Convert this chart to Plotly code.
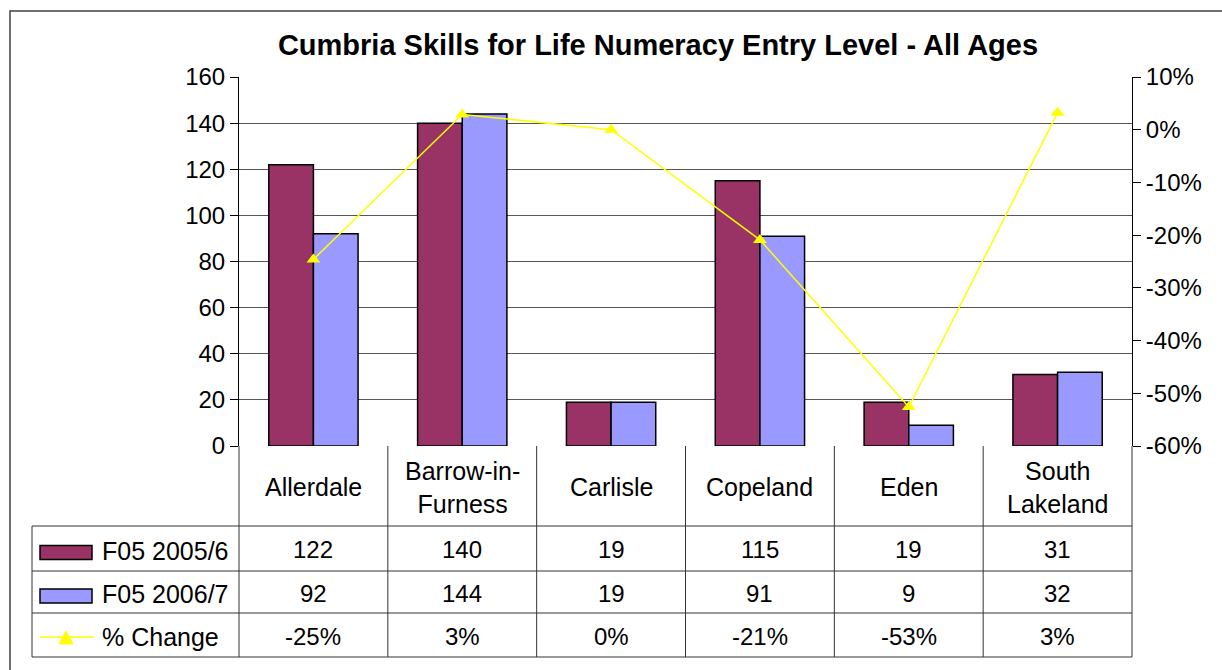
import plotly.graph_objects as go

# data
districts = ["Allerdale", "Barrow-in-Furness", "Carlisle", "Copeland", "Eden", "South Lakeland"]
header_labels = ["Allerdale", "Barrow-in-<br>Furness", "Carlisle", "Copeland", "Eden", "South<br>Lakeland"]
f05_2005 = [122, 140, 19, 115, 19, 31]
f05_2006 = [92, 144, 19, 91, 9, 32]
pct_change = [-0.246, 0.029, 0.0, -0.209, -0.526, 0.032]
pct_labels = ["-25%", "3%", "0%", "-21%", "-53%", "3%"]
pct_ticks = [0.1, 0.0, -0.1, -0.2, -0.3, -0.4, -0.5, -0.6]
pct_tick_text = ["10%", "0%", "-10%", "-20%", "-30%", "-40%", "-50%", "-60%"]

MAROON = "#993366"
LILAC = "#9999FF"
FONT = "Liberation Sans, Arial, sans-serif"
FS = 24   # numbers
FS_TXT = 25  # words in table

W, H = 1222, 670
L, R, T, B = 239, 1132, 77, 446  # plot area in pixels


def px_x(x):
    return (x - L) / (R - L)


def px_y(y):
    return (B - y) / (B - T)


fig = go.Figure()
fig.add_trace(go.Bar(
    x=districts, y=f05_2005, name="F05 2005/6",
    marker_color=MAROON, marker_line={"color": "black", "width": 1.5},
))
fig.add_trace(go.Bar(
    x=districts, y=f05_2006, name="F05 2006/7",
    marker_color=LILAC, marker_line={"color": "black", "width": 1.5},
))
fig.add_trace(go.Scatter(
    x=districts, y=pct_change, name="% Change", yaxis="y2",
    mode="lines+markers",
    line={"color": "#FFFF00", "width": 1.5},
    marker={"symbol": "triangle-up", "size": 12, "color": "#FFFF00"},
))

shapes = []
annotations = []
line_col = "#333333"


def hline(y, x0, x1, color=line_col):
    shapes.append(dict(type="line", xref="paper", yref="paper",
                       x0=px_x(x0), x1=px_x(x1), y0=px_y(y), y1=px_y(y),
                       line={"color": color, "width": 1}))


def vline(x, y0, y1, color=line_col):
    shapes.append(dict(type="line", xref="paper", yref="paper",
                       x0=px_x(x), x1=px_x(x), y0=px_y(y0), y1=px_y(y1),
                       line={"color": color, "width": 1}))


# outer chart border (top and left visible)
shapes.append(dict(type="rect", xref="paper", yref="paper",
                   x0=px_x(10), x1=px_x(1260), y0=px_y(11), y1=px_y(720),
                   line={"color": "#404040", "width": 1.5}))

# data table grid
row_edges = [446, 526, 571, 613, 657]
for y in row_edges[1:]:
    hline(y, 32, R)
vline(32, row_edges[1], row_edges[-1])
cw = (R - L) / len(districts)
for i in range(len(districts) + 1):
    vline(L + i * cw, B, row_edges[-1])

# header row and values
rows = [f05_2005, f05_2006, pct_labels]
for i, lab in enumerate(header_labels):
    cx = px_x(L + (i + 0.5) * cw)
    annotations.append(dict(xref="paper", yref="paper", x=cx, xanchor="center",
                            y=px_y((row_edges[0] + row_edges[1]) / 2 + 1), yanchor="middle",
                            text=lab, showarrow=False, font={"size": FS_TXT}))
    for r, vals in enumerate(rows):
        annotations.append(dict(xref="paper", yref="paper", x=cx, xanchor="center",
                                y=px_y((row_edges[r + 1] + row_edges[r + 2]) / 2 + 1),
                                yanchor="middle",
                                text=str(vals[i]), showarrow=False, font={"size": FS}))

# legend keys in the table
legend_names = ["F05 2005/6", "F05 2006/7", "% Change"]
for r, name in enumerate(legend_names):
    yc = (row_edges[r + 1] + row_edges[r + 2]) / 2
    if r < 2:
        shapes.append(dict(type="rect", xref="paper", yref="paper",
                           x0=px_x(40), x1=px_x(92), y0=px_y(yc - 3), y1=px_y(yc + 11),
                           fillcolor=[MAROON, LILAC][r],
                           line={"color": "black", "width": 1.5}))
    else:
        shapes.append(dict(type="line", xref="paper", yref="paper",
                           x0=px_x(40), x1=px_x(94), y0=px_y(yc + 2), y1=px_y(yc + 2),
                           line={"color": "#FFFF00", "width": 1.5}))
        shapes.append(dict(type="path", xref="paper", yref="paper",
                           path=f"M {px_x(59)},{px_y(yc + 9)} L {px_x(73)},{px_y(yc + 9)} L {px_x(66)},{px_y(yc - 4)} Z",
                           fillcolor="#FFFF00", line={"color": "#FFFF00", "width": 1}))
    annotations.append(dict(xref="paper", yref="paper", x=px_x(100), y=px_y(yc + 2),
                            xanchor="left", yanchor="middle", text=name, showarrow=False,
                            font={"size": FS_TXT}))

fig.update_layout(
    width=W, height=H,
    margin={"l": L, "r": W - R, "t": T, "b": H - B, "autoexpand": False},
    paper_bgcolor="white", plot_bgcolor="white",
    font={"family": FONT, "size": FS, "color": "black"},
    title={"text": "<b>Cumbria Skills for Life Numeracy Entry Level - All Ages</b>",
           "x": 658 / W, "xanchor": "center",
           "y": 1 - 45 / H, "yanchor": "middle",
           "font": {"size": 29}},
    barmode="group", bargap=0.4, bargroupgap=0,
    showlegend=False,
    xaxis={"showticklabels": False, "ticks": "", "showgrid": False,
           "showline": False, "zeroline": False},
    yaxis={"range": [0, 160], "dtick": 20, "showgrid": True, "gridcolor": "#555555",
           "gridwidth": 1, "showline": True, "linecolor": "black", "linewidth": 1,
           "ticks": "outside", "ticklen": 8, "tickcolor": "black", "zeroline": False,
           "tickfont": {"size": FS}},
    yaxis2={"range": [-0.6, 0.1], "tickvals": pct_ticks, "ticktext": pct_tick_text,
            "overlaying": "y",
            "side": "right", "showgrid": False, "showline": True, "linecolor": "black",
            "linewidth": 1, "ticks": "outside", "ticklen": 8, "tickcolor": "black",
            "zeroline": False, "tickfont": {"size": FS}},
    shapes=shapes,
    annotations=annotations,
)

fig.write_html("out.html", config={"displayModeBar": False},
               post_script="document.body.style.margin='0';")
